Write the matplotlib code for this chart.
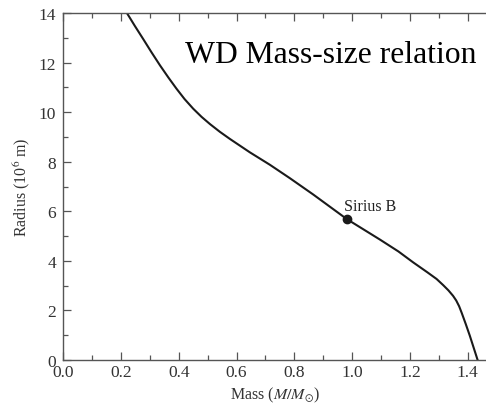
import numpy as np
import matplotlib
matplotlib.use("Agg")
import matplotlib.pyplot as plt
from matplotlib.ticker import MultipleLocator

plt.rcParams['font.family'] = ['Liberation Serif', 'DejaVu Serif']
plt.rcParams['mathtext.fontset'] = 'stix'

mass = [0.219, 0.248, 0.277, 0.306, 0.335, 0.364, 0.392, 0.420, 0.450,
        0.479, 0.508, 0.542, 0.577, 0.646, 0.715, 0.784, 0.865, 0.981,
        1.096, 1.160, 1.211, 1.260, 1.292, 1.315, 1.333, 1.349, 1.360,
        1.370, 1.379, 1.393, 1.407, 1.434]
radius = [14.03, 13.48, 12.95, 12.41, 11.89, 11.40, 10.95, 10.53, 10.14,
          9.81, 9.52, 9.21, 8.92, 8.38, 7.88, 7.34, 6.68, 5.69,
          4.86, 4.38, 3.94, 3.54, 3.27, 3.02, 2.81, 2.59, 2.40,
          2.17, 1.90, 1.45, 0.98, 0.0]

sirius_mass = 0.981
sirius_radius = 5.69

fig = plt.figure(figsize=(4.86, 4.14), dpi=100)
ax = fig.add_axes([0.130, 0.128, 0.870, 0.838])

ink = '#1a1a1a'
ax.plot(mass, radius, color=ink, lw=1.5, solid_joinstyle='round')
ax.plot([sirius_mass], [sirius_radius], 'o', color=ink, ms=6)
ax.text(sirius_mass - 0.01, sirius_radius + 0.35, 'Sirius B', fontsize=11.5,
        color='#222222', ha='left', va='baseline')

ax.set_xlim(0, 1.463)
ax.set_ylim(0, 14)
ax.xaxis.set_major_locator(MultipleLocator(0.2))
ax.xaxis.set_minor_locator(MultipleLocator(0.1))
ax.yaxis.set_major_locator(MultipleLocator(2))
ax.yaxis.set_minor_locator(MultipleLocator(1))
ax.xaxis.set_major_formatter(lambda v, p: f'{v:.1f}')
ax.yaxis.set_major_formatter(lambda v, p: f'{v:.0f}')

ax.spines['right'].set_visible(False)
for s in ['left', 'bottom', 'top']:
    ax.spines[s].set_color('#555555')
    ax.spines[s].set_linewidth(1.0)

ax.tick_params(which='both', direction='in', top=True, right=False,
               color='#555555', width=0.9)
ax.tick_params(which='major', length=6, labelsize=12.5, labelcolor='#333333')
ax.tick_params(axis='x', which='major', pad=3)
ax.tick_params(axis='y', which='major', pad=5)
ax.tick_params(which='minor', length=3.5)

ax.set_xlabel(r'Mass ($M/M_{\odot}$)', fontsize=11.5, color='#333333', labelpad=3)
ax.set_ylabel(r'Radius (10$^6$ m)', fontsize=11.5, color='#333333', labelpad=5)

fig.text(0.981, 0.848, 'WD Mass-size relation', fontsize=22.8, color='black',
         ha='right', va='baseline')

fig.savefig('out.png', dpi=100)
